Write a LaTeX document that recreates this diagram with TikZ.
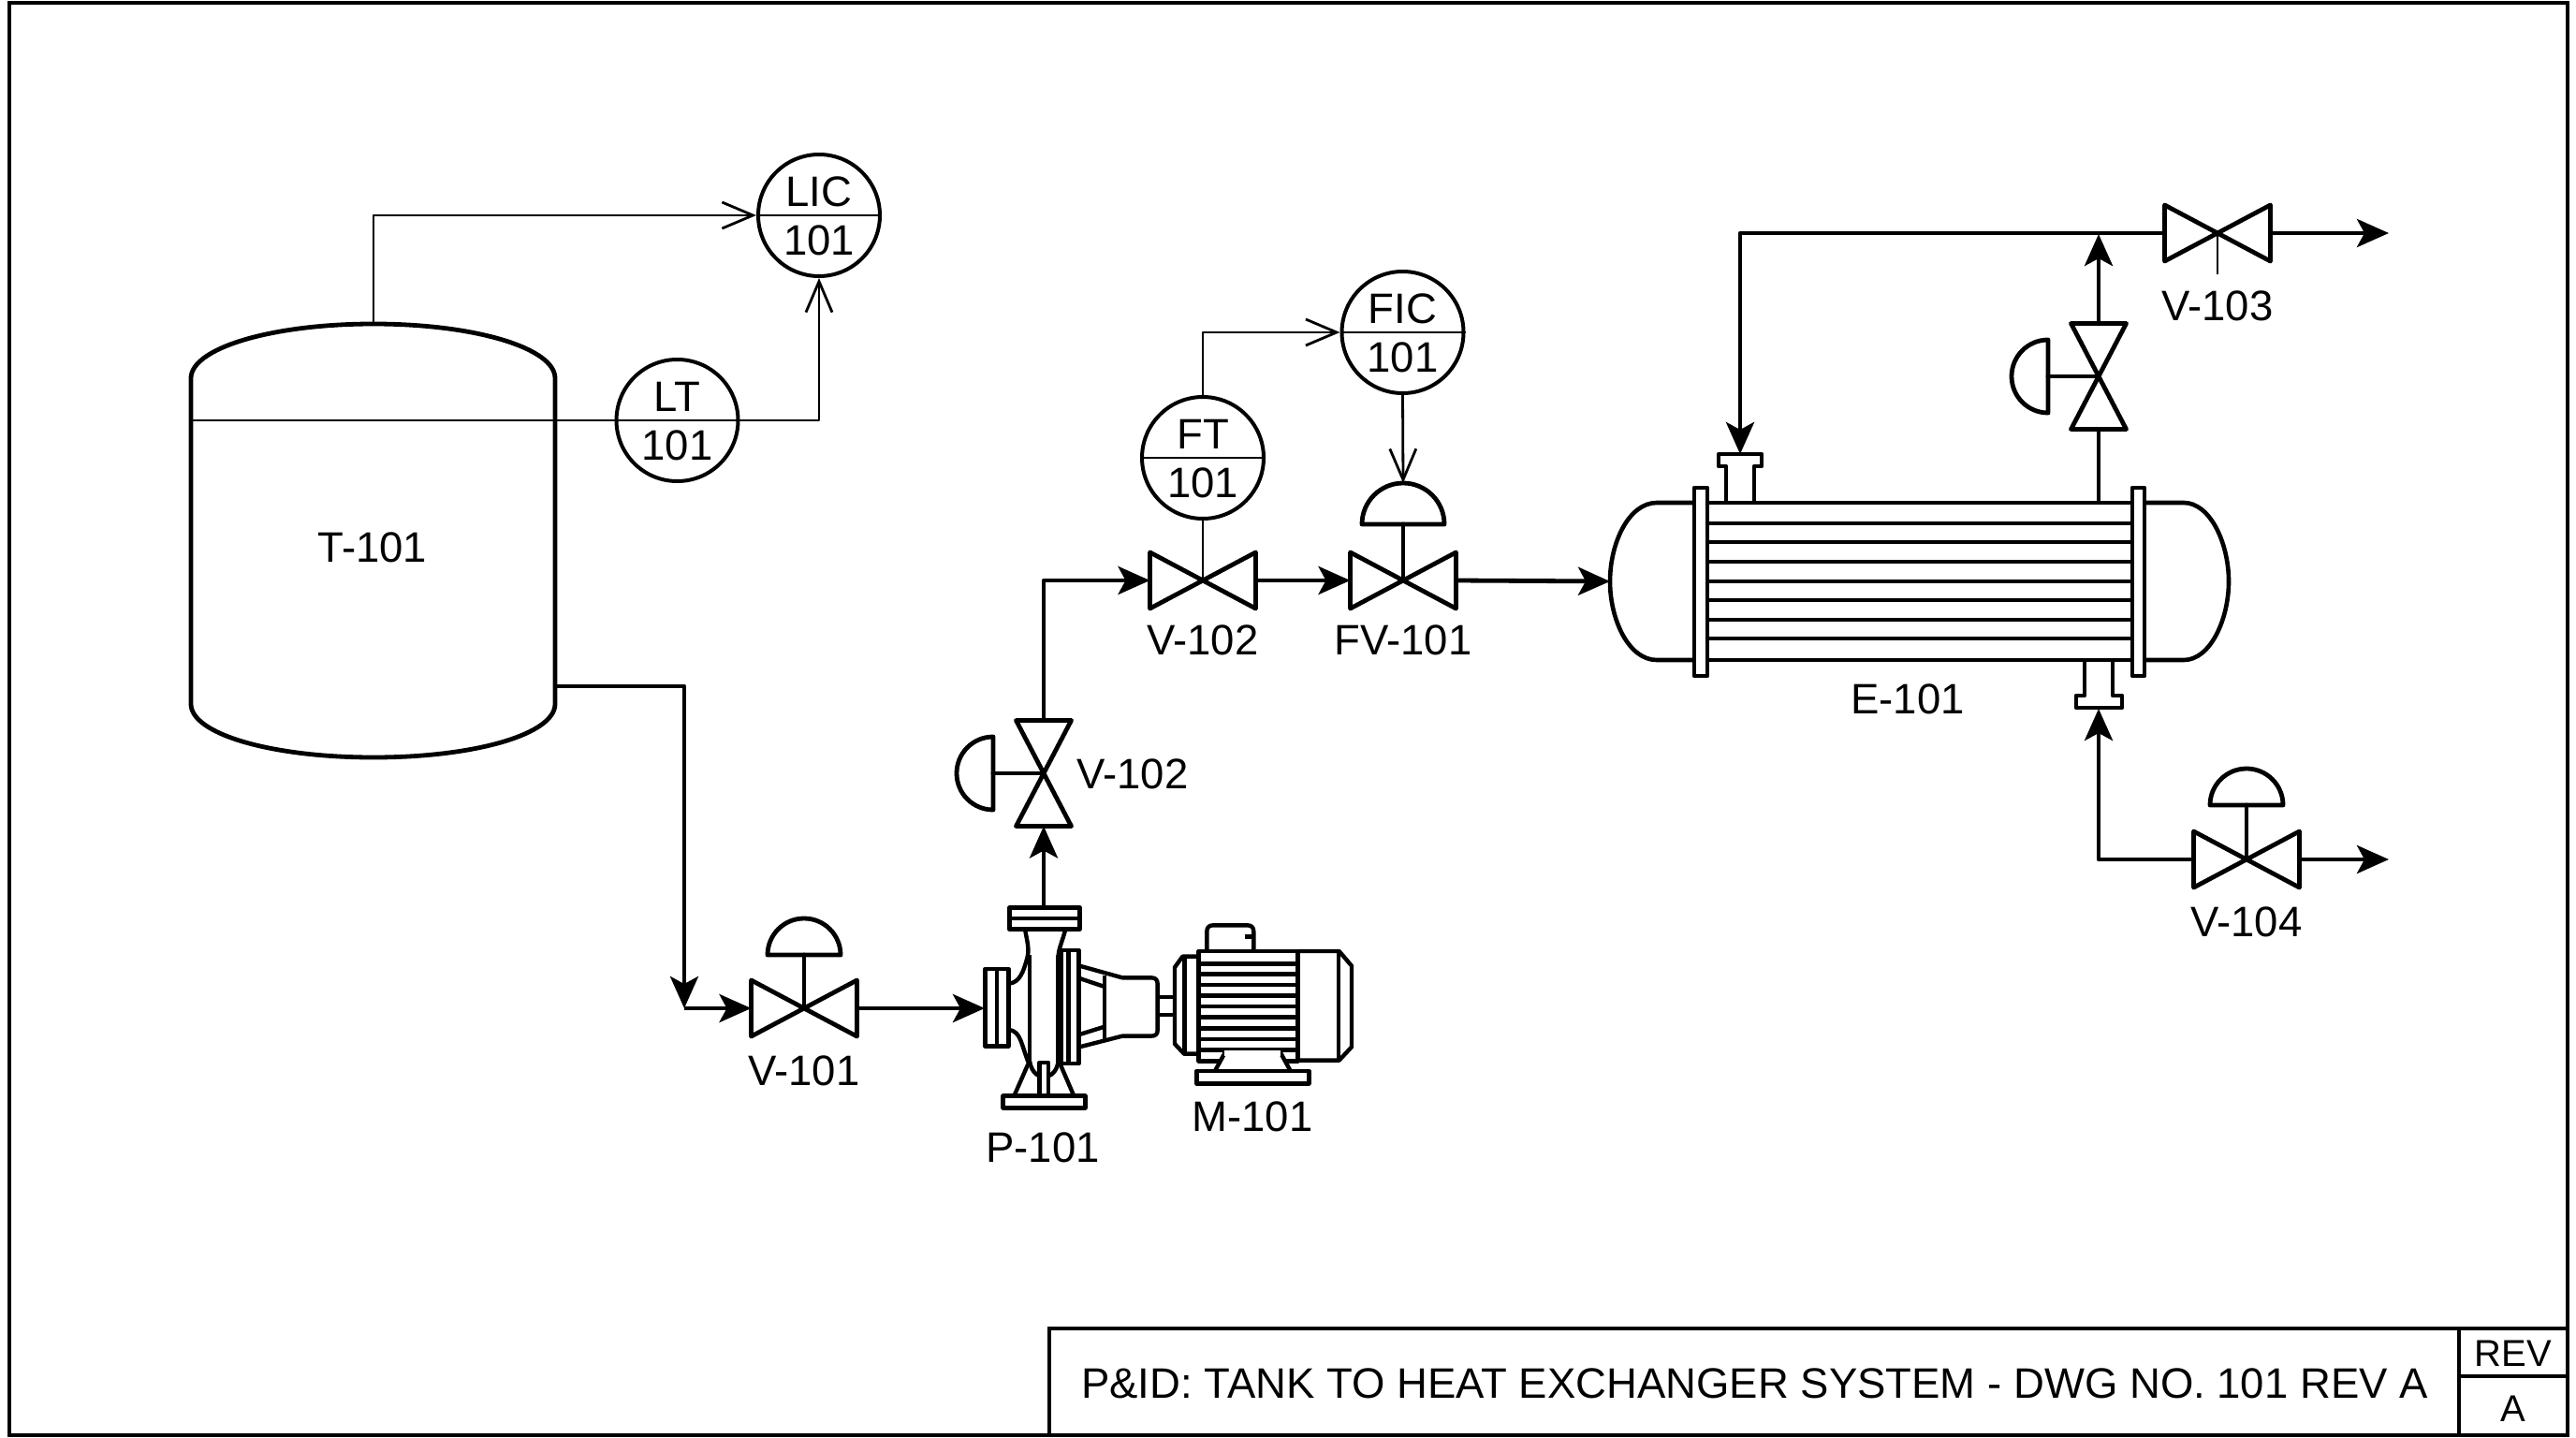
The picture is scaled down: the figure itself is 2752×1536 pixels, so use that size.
\documentclass[tikz,border=0pt]{standalone}
\usepackage{fontspec}
\setmainfont{Liberation Sans}
\usetikzlibrary{arrows.meta}
\newcommand{\lbl}{\fontsize{45.5}{52}\selectfont}
\tikzset{
  heavy/.style={line width=4.8pt,line join=round,line cap=round},
  thin line/.style={line width=2.8pt},
  pipe/.style={line width=4.8pt,line join=round},
  sig/.style={line width=2.8pt,line join=round},
  flow/.style={-{Stealth[length=34pt,width=30pt,inset=8pt]}},
  open/.style={-{Straight Barb[length=33pt,width=28pt,line width=2.8pt]}},
  txt/.style={anchor=base,inner sep=0pt,font=\lbl},
  inst/.style={circle,draw,line width=4pt,inner sep=0pt,minimum size=130pt},
  port/.style={inner sep=0pt,outer sep=0pt},
}
% horizontal valve: name, x, y
\newcommand{\hvalve}[3]{%
  \node[port,minimum width=113pt,minimum height=60pt] (#1) at (#2,#3) {};
  \draw[heavy] (#2-56.5,#3-30) -- (#2+56.5,#3+30) -- (#2+56.5,#3-30) -- (#2-56.5,#3+30) -- cycle;
}
% dome above a horizontal valve: x, y, radius, base offset
\newcommand{\hdome}[4]{%
  \draw[heavy] (#1-#3,#2-#4) arc[start angle=180,end angle=360,radius=#3] -- cycle;
  \draw[heavy] (#1,#2-#4) -- (#1,#2);
}
% vertical valve with dome on the left
\newcommand{\vvalve}[3]{%
  \node[port,minimum width=59pt,minimum height=113pt] (#1) at (#2,#3) {};
  \draw[heavy] (#2-29.5,#3-56.5) -- (#2+29.5,#3+56.5) -- (#2-29.5,#3+56.5) -- (#2+29.5,#3-56.5) -- cycle;
  \draw[heavy] (#2-54,#3-39) arc[start angle=270,end angle=90,radius=39] -- cycle;
  \draw[heavy] (#2-54,#3) -- (#2,#3);
}
% instrument bubble: name, x, y, tag, number
\newcommand{\bubble}[5]{%
  \node[inst] (#1) at (#2,#3) {};
  \draw[thin line] (#1.west) -- (#1.east);
  \node[txt] (#1t) at (#2,#3-10) {#4};
  \node[txt] (#1n) at (#2,#3+42) {#5};
}
\begin{document}
\begin{tikzpicture}[x=1pt,y=-1pt]
\useasboundingbox (0,0) rectangle (2752,1536);
% frame and title block
\draw[line width=4.6pt] (10,3) rectangle (2743,1533);
\draw[line width=4.6pt] (1121,1533) -- (1121,1419) -- (2743,1419);
\draw[line width=3.8pt] (2627,1419) -- (2627,1533);
\draw[line width=3.8pt] (2627,1470) -- (2743,1470);
\node[txt,anchor=base west,font=\fontsize{45.5}{52}\selectfont] (title) at (1155,1493) {P\&ID: TANK TO HEAT EXCHANGER SYSTEM - DWG NO. 101 REV A};
\node[txt,font=\fontsize{40}{46}\selectfont] (rev) at (2685,1459) {REV};
\node[txt,font=\fontsize{40}{46}\selectfont] (reva) at (2685,1518) {A};

% tank
\draw[line width=4.8pt,line join=round] (204,404) .. controls (204,372) and (290,346) .. (399,346)
  .. controls (508,346) and (593,372) .. (593,404) -- (593,752)
  .. controls (593,784) and (508,809) .. (399,809)
  .. controls (290,809) and (204,784) .. (204,752) -- cycle;
\coordinate (tanktop) at (399,346);
\coordinate (tankout) at (593,733);
\coordinate (levelL) at (204,449);
\node[txt] (tank) at (398,600) {T-101};

% instruments
\bubble{lic}{875}{230}{LIC}{101}
\bubble{lt}{723.5}{449}{LT}{101}
\bubble{ft}{1285}{489}{FT}{101}
\bubble{fic}{1498.5}{355}{FIC}{101}

% valves
\hvalve{va}{859}{1077}\hdome{859}{1077}{39}{57}
\vvalve{vb}{1115}{826}
\hvalve{vc}{1285}{620}
\hvalve{fv}{1499}{620}\hdome{1499}{620}{44}{60}
\hvalve{vd}{2369}{249}
\vvalve{ve}{2242}{402}
\hvalve{vf}{2400}{918}\hdome{2400}{918}{39}{58}
\coordinate (fvtop) at (1499,516);

\node[txt] (lva) at (859,1159) {V-101};
\node[txt] (lvb) at (1210,842) {V-102};
\node[txt] (lvc) at (1285,699) {V-102};
\node[txt] (lfv) at (1499,699) {FV-101};
\node[txt] (lvd) at (2369,342) {V-103};
\node[txt] (lvf) at (2400,1000) {V-104};

% pump
\coordinate (pumpin) at (1052,1077);
\coordinate (pumpout) at (1115,969);
\begin{scope}[shift={(1000,930)},x=0.3333pt,y=-0.3333pt,line width=4.4pt,line join=round]
  \draw (235,118) rectangle (460,188); \draw (235,153) -- (460,153);
  \draw (158,315) rectangle (232,563); \draw (195,315) -- (195,563);
  \draw (400,255) rectangle (458,618); \draw (425,255) -- (425,618);
  \draw (300,270) -- (300,615); \draw (392,270) -- (392,615);
  \draw (285,188) .. controls (292,225) and (300,255) .. (292,280) .. controls (280,325) and (268,358) .. (234,362);
  \draw (234,510) .. controls (272,515) and (272,555) .. (298,620);
  \draw (415,188) .. controls (405,225) and (395,245) .. (392,270);
  \draw (300,610) .. controls (305,640) and (320,655) .. (332,658);
  \draw (392,610) .. controls (388,640) and (372,655) .. (360,658);
  \draw (215,722) rectangle (478,760);
  \draw (250,722) -- (295,620); \draw (442,722) -- (398,620);
  \draw (332,722) -- (332,615) -- (360,615) -- (360,722);
  \draw (460,305) -- (597,343) -- (690,343) .. controls (703,343) and (710,350) .. (710,362)
    -- (710,512) .. controls (710,524) and (703,530) .. (690,530) -- (597,530) -- (460,565);
  \draw (460,345) -- (540,372); \draw (460,525) -- (540,500);
  \draw (540,335) -- (540,548);
  \draw (712,405) -- (762,405); \draw (712,462) -- (762,462);
  % motor
  \draw (842,275) -- (790,275) -- (765,310) -- (765,555) -- (795,587) -- (842,587);
  \draw (797,282) -- (797,582);
  \draw (842,258) rectangle (1160,610);
  \foreach \yy in {298,332,366,400,435,470,505,540,575} \draw (845,\yy) -- (1160,\yy);
  \draw (1160,258) -- (1292,258) -- (1332,305) -- (1332,565) -- (1292,608) -- (1160,608);
  \draw (1290,258) -- (1290,608);
  \draw (868,258) -- (868,195) .. controls (868,182) and (875,175) .. (888,175) -- (998,175)
    .. controls (1011,175) and (1018,182) .. (1018,195) -- (1018,258);
  \draw (990,212) -- (1018,212);
  \draw[fill=white] (895,640) -- (925,585) -- (1105,585) -- (1135,640);
  \draw[white,line width=6pt] (925,585) -- (1105,585);
  \draw (835,642) rectangle (1195,682);
\end{scope}
\node[txt] (lp) at (1114,1241) {P-101};
\node[txt] (lm) at (1338,1208) {M-101};

% heat exchanger
\begin{scope}[line width=4.6pt,line join=round]
  \draw (1810,537) -- (1770,537) .. controls (1740,537) and (1720,580) .. (1720,621)
    .. controls (1720,662) and (1740,705) .. (1770,705) -- (1810,705);
  \draw (2291,537) -- (2333,537) .. controls (2361,537) and (2381,580) .. (2381,621)
    .. controls (2381,662) and (2361,705) .. (2333,705) -- (2291,705);
  \draw (1810,521) rectangle (1824,722);
  \draw (2278,521) rectangle (2291,722);
  \foreach \yy in {537,559,579,600,621,641,662,682,705} \draw (1824,\yy) -- (2278,\yy);
  \draw (1844,537) -- (1844,498) -- (1836,498) -- (1836,485) -- (1882,485) -- (1882,498) -- (1874,498) -- (1874,537);
  \draw (2227,705) -- (2227,743) -- (2218,743) -- (2218,756) -- (2267,756) -- (2267,743) -- (2257,743) -- (2257,705);
\end{scope}
\coordinate (exin) at (1720,621);
\coordinate (exa) at (1859,485);
\coordinate (exb) at (2242,757);
\coordinate (exshell) at (2242,537);
\node[txt] (lex) at (2038,762) {E-101};

% signal lines
\draw[sig,open] (tanktop) -- (399,230) -- (lic.west);
\draw[sig] (levelL) -- (lt.west);
\draw[sig,open] (lt.east) -- (875,449) -- (lic.south);
\draw[sig] (ft.south) -- (vc.center);
\draw[sig,open] (ft.north) |- (fic.west);
\draw[sig,open] (fic.south) -- (fvtop);
\draw[sig] (vd.center) -- (2369,293);

% process lines
\draw[pipe,flow] (tankout) -- (731,733) -- (731,1077);
\draw[pipe,flow] (731,1077) -- (va.west);
\draw[pipe,flow] (va.east) -- (pumpin);
\draw[pipe,flow] (pumpout) -- (vb.south);
\draw[pipe,flow] (vb.north) |- (vc.west);
\draw[pipe,flow] (vc.east) -- (fv.west);
\draw[pipe,flow] (fv.east) -- (exin);
\draw[pipe] (exshell) -- (ve.south);
\draw[pipe,flow] (ve.north) -- (2242,250);
\draw[pipe,flow] (vd.west) -- (1859,249) -- (exa);
\draw[pipe,flow] (vd.east) -- (2552,249);
\draw[pipe,flow] (vf.west) -| (exb);
\draw[pipe,flow] (vf.east) -- (2552,918);
\end{tikzpicture}
\end{document}
